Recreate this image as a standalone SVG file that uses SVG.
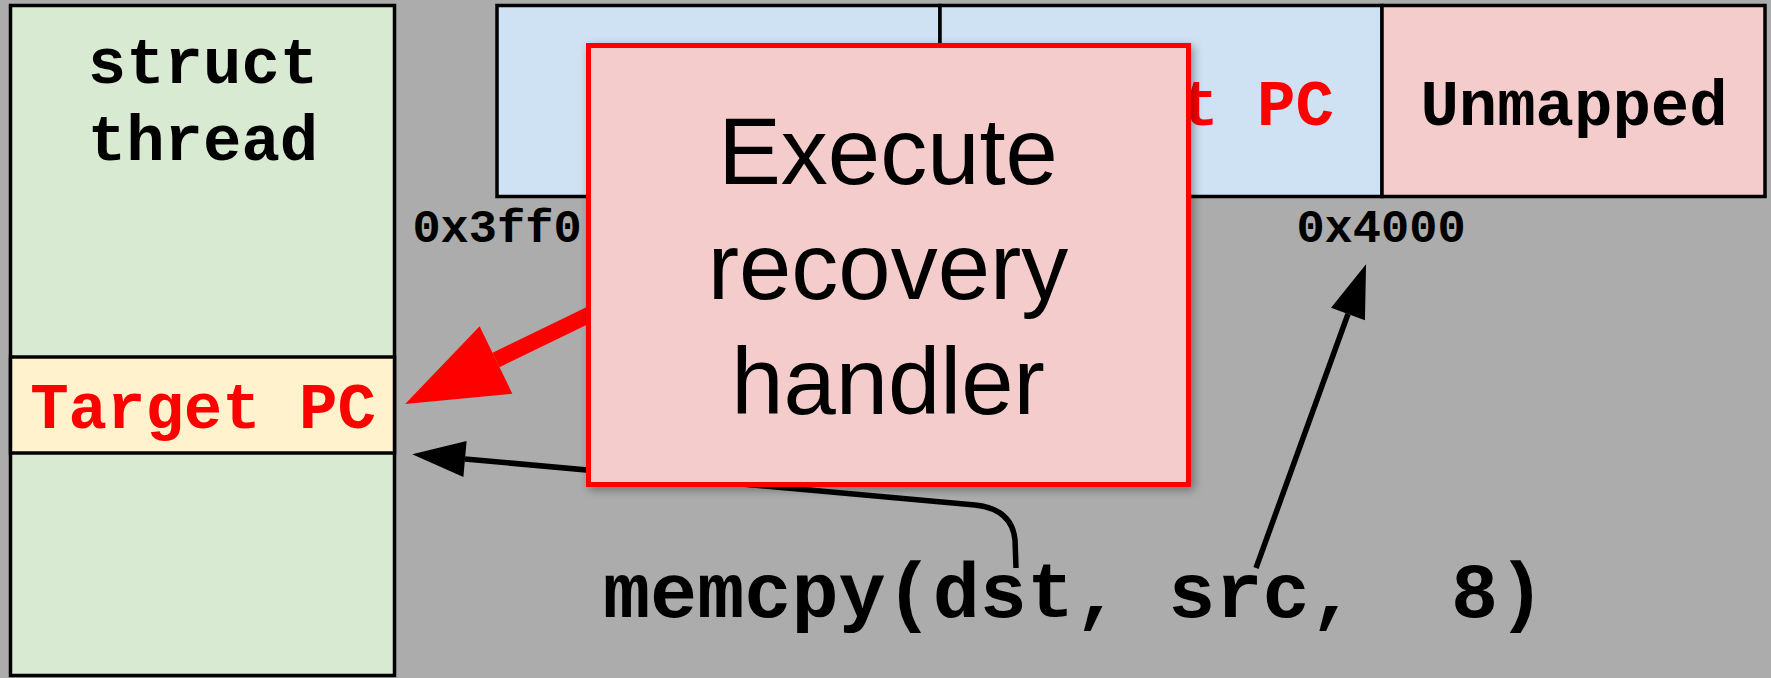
<svg xmlns="http://www.w3.org/2000/svg" width="1771" height="678" viewBox="0 0 1771 678">
  <defs>
    <style>
      .mono { font-family: "Liberation Mono", "Courier New", monospace; font-weight: bold; }
      .sans { font-family: "Liberation Sans", Arial, sans-serif; }
      .cell { stroke: #000; stroke-width: 3.5; }
      .label { font-size: 64px; text-anchor: middle; }
      .addr { font-size: 47px; text-anchor: middle; fill: #000; }
      .wire { fill: none; stroke: #000; stroke-width: 5.5; }
    </style>
    <marker id="head-black" markerUnits="userSpaceOnUse" markerWidth="53" markerHeight="36" refX="0" refY="18" orient="auto" overflow="visible">
      <path d="M0,0 L53,18 L0,36 z" fill="#000"/>
    </marker>
    <marker id="head-red" markerUnits="userSpaceOnUse" markerWidth="101" markerHeight="75" refX="0" refY="37.5" orient="auto" overflow="visible">
      <path d="M0,0 L101,37.5 L0,75 z" fill="#ff0000"/>
    </marker>
    <filter id="shadow" x="-10%" y="-10%" width="125%" height="125%">
      <feDropShadow dx="3" dy="3" stdDeviation="5" flood-color="#000" flood-opacity="0.35"/>
    </filter>
  </defs>

  <!-- backdrop -->
  <rect x="0" y="0" width="1771" height="678" fill="#acacac"/>

  <!-- thread structure with its saved target PC slot -->
  <g id="struct-thread">
    <rect class="cell" x="10.5" y="5.5" width="384" height="670" fill="#d9ead3"/>
    <text class="mono label" x="203" y="83" fill="#000">struct</text>
    <text class="mono label" x="203" y="160" fill="#000">thread</text>
  </g>
  <g id="target-pc-slot">
    <rect class="cell" x="10.5" y="357" width="384" height="96" fill="#fff2cc"/>
    <text class="mono label" x="203" y="428" fill="#ff0000">Target PC</text>
  </g>

  <!-- memory pages -->
  <g id="page-low">
    <rect class="cell" x="497" y="5.5" width="443" height="191" fill="#cfe2f3"/>
  </g>
  <g id="page-target">
    <rect class="cell" x="940" y="5.5" width="442" height="191" fill="#cfe2f3"/>
    <text class="mono label" x="1161" y="125" fill="#ff0000">Target PC</text>
  </g>
  <g id="page-unmapped">
    <rect class="cell" x="1382" y="5.5" width="383" height="191" fill="#f4cccc"/>
    <text class="mono label" x="1574" y="125" fill="#000">Unmapped</text>
  </g>
  <g id="addresses">
    <text class="mono addr" x="497" y="242">0x3ff0</text>
    <text class="mono addr" x="1381" y="242">0x4000</text>
  </g>

  <!-- connectors -->
  <g id="connectors">
    <path class="wire" d="M1016,568 L1015,540 Q1012,509 975,505 L465,459" marker-end="url(#head-black)"/>
    <path class="wire" d="M1256,568 L1348,314" marker-end="url(#head-black)"/>
    <path d="M700,261 L496,360" fill="none" stroke="#ff0000" stroke-width="16" marker-end="url(#head-red)"/>
  </g>

  <!-- recovery handler callout -->
  <g id="recovery-handler">
    <rect x="588.5" y="45.5" width="600" height="439" fill="#f4cccc" stroke="#ff0000" stroke-width="5" filter="url(#shadow)"/>
    <text class="sans" x="888" y="184" font-size="94" text-anchor="middle" fill="#000">Execute</text>
    <text class="sans" x="888" y="299" font-size="94" text-anchor="middle" fill="#000">recovery</text>
    <text class="sans" x="888" y="414" font-size="94" text-anchor="middle" fill="#000">handler</text>
  </g>

  <!-- call site -->
  <g id="memcpy-call">
    <text class="mono" x="603" y="617" font-size="78.5" fill="#000" xml:space="preserve">memcpy(dst, src,  8)</text>
  </g>
</svg>
